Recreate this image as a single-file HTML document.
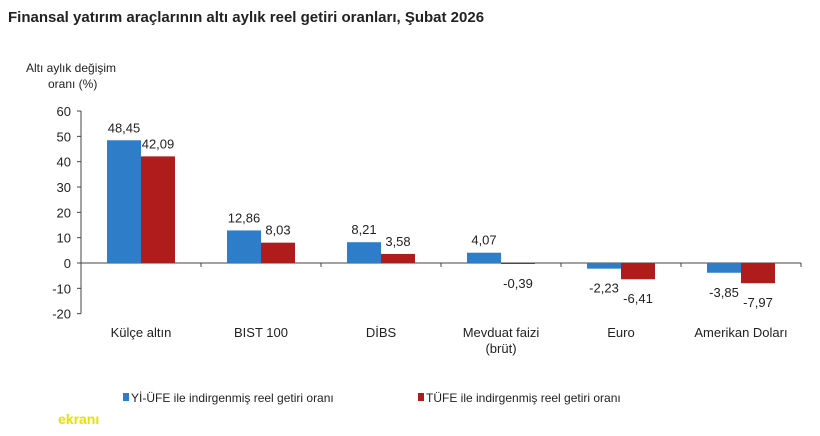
<!DOCTYPE html>
<html><head><meta charset="utf-8"><style>
body{margin:0;background:#fff;width:820px;height:431px;overflow:hidden;font-family:"Liberation Sans",Arial,sans-serif}
svg text{font-family:"Liberation Sans",Arial,sans-serif}
</style></head><body>
<svg id="c" width="820" height="431">
<text x="8" y="22" font-size="15" font-weight="bold" fill="#222">Finansal yatırım araçlarının altı aylık reel getiri oranları, Şubat 2026</text>
<text x="26" y="72" font-size="12" fill="#222">Altı aylık değişim</text>
<text x="48" y="88" font-size="12" fill="#222">oranı (%)</text>
<g id="plot"></g>
<g>
<rect x="123" y="393" width="6" height="8" fill="#2e7dc8"/>
<text x="131" y="402" font-size="12" fill="#222">Yİ-ÜFE ile indirgenmiş reel getiri oranı</text>
<rect x="418" y="393" width="6" height="8" fill="#b01c1c"/>
<text x="426" y="402" font-size="12" fill="#222">TÜFE ile indirgenmiş reel getiri oranı</text>
</g>
<text x="58" y="424" font-size="14" fill="#e8e000" font-weight="bold">ekranı</text>
</svg>
<script>
const categories=["Külçe altın","BIST 100","DİBS","Mevduat faizi","Euro","Amerikan Doları"];
const yiufe=[48.45,12.86,8.21,4.07,-2.23,-3.85];
const tufe=[42.09,8.03,3.58,-0.39,-6.41,-7.97];
const yiufeLabels=["48,45","12,86","8,21","4,07","-2,23","-3,85"];
const tufeLabels=["42,09","8,03","3,58","-0,39","-6,41","-7,97"];
const ticks=[60,50,40,30,20,10,0,-10,-20];
const NS="http://www.w3.org/2000/svg";
const g=document.getElementById("plot");
const x0=81,bandW=120,y0=263,k=2.533;
const y=v=>y0-v*k;
function mk(t,a){const e=document.createElementNS(NS,t);for(const n in a)e.setAttribute(n,a[n]);g.appendChild(e);return e;}
let ax=mk("line",{x1:x0,y1:y(60),x2:x0,y2:y(-20),stroke:"#444"});


ticks.forEach(t=>{
 let l=mk("line",{x1:x0-4,x2:x0,y1:y(t),y2:y(t),stroke:"#444"});
 
 
 let tx=mk("text",{x:x0-10,y:y(t)+5,"font-size":13,"text-anchor":"end",fill:"#222"});
 tx.textContent=t;
 
 
});
let xa=mk("line",{x1:x0,y1:y0,x2:x0+bandW*categories.length,y2:y0,stroke:"#444"});


categories.forEach((c,i)=>{
 const cx=x0+bandW*(i+0.5);
 let tk=mk("line",{x1:x0+bandW*(i+1),x2:x0+bandW*(i+1),y1:y0,y2:y0+4,stroke:"#444"});
 
 
 [[yiufe[i],"#2e7dc8",cx-34,yiufeLabels[i],"bar-yiufe"],[tufe[i],"#b01c1c",cx,tufeLabels[i],"bar-tufe"]].forEach(([v,col,bx,lab,nm])=>{
  let r=mk("rect",{x:bx,width:34,y:Math.min(y(v),y0),height:Math.abs(y(v)-y0),fill:col});
  
  
  const ly=v>=0?y(v)-8:y(v)+24;
  let t=mk("text",{x:bx+17,y:ly,"font-size":13,"text-anchor":"middle",fill:"#222"});
  t.textContent=lab;
  
  
 });
 let ct=mk("text",{x:cx,y:337,"font-size":13,"text-anchor":"middle",fill:"#222"});
 ct.textContent=c;
 
 
 if(c==="Mevduat faizi"){
  let c2=mk("text",{x:cx,y:353,"font-size":13,"text-anchor":"middle",fill:"#222"});
  c2.textContent="(brüt)";
  
  
 }
});
</script>
</body></html>
